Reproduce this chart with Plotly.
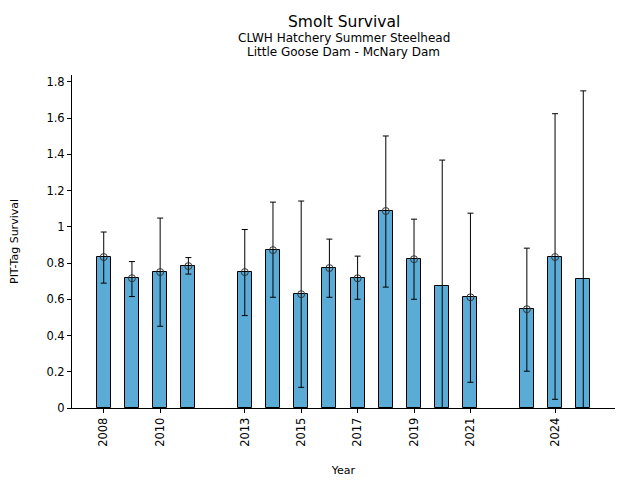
import plotly.graph_objects as go

years = [2008, 2009, 2010, 2011, 2013, 2014, 2015, 2016, 2017, 2018, 2019, 2020, 2021, 2023, 2024, 2025]
survival = [0.833, 0.716, 0.750, 0.783, 0.750, 0.871, 0.628, 0.772, 0.716, 1.087, 0.821, 0.672, 0.611, 0.545, 0.833, 0.711]
upper = [0.971, 0.808, 1.048, 0.830, 0.985, 1.136, 1.142, 0.932, 0.838, 1.501, 1.042, 1.368, 1.075, 0.882, 1.624, 1.750]
lower = [0.689, 0.615, 0.451, 0.739, 0.510, 0.611, 0.114, 0.611, 0.600, 0.667, 0.600, -0.05, 0.142, 0.203, 0.048, -0.05]
show_marker = [True, True, True, True, True, True, True, True, True, True, True, False, True, True, True, False]
tick_years = [2008, 2010, 2013, 2015, 2017, 2019, 2021, 2024]

err_plus = [u - s for u, s in zip(upper, survival)]
err_minus = [s - l for s, l in zip(survival, lower)]
marker_y = [s if m else None for s, m in zip(survival, show_marker)]

font = "DejaVu Sans"
fig = go.Figure()
fig.add_trace(go.Bar(
    x=years, y=survival, width=0.5,
    marker=dict(color="#5aabd6", line=dict(color="black", width=1)),
    error_y=dict(type="data", symmetric=False, array=err_plus, arrayminus=err_minus,
                 color="black", thickness=1, width=3),
    cliponaxis=True, showlegend=False,
))
fig.add_trace(go.Scatter(
    x=years, y=marker_y, mode="markers",
    marker=dict(symbol="circle-open", size=7, color="#333333", line=dict(width=1)),
    showlegend=False,
))

fig.update_layout(
    width=640, height=480,
    margin=dict(l=64, r=33, t=67, b=80),
    plot_bgcolor="white", paper_bgcolor="white",
    font=dict(family=font, size=11, color="black"),
    bargap=0,
)
fig.update_xaxes(
    range=[2006.875, 2026.125], tickvals=tick_years, ticktext=[str(t) for t in tick_years],
    tickangle=-90, ticks="outside", ticklen=4, tickcolor="black",
    showline=True, linecolor="black", linewidth=1, showgrid=False, zeroline=False,
    tickfont=dict(size=11.5), automargin=False,
    title=dict(text="Year", font=dict(size=11), standoff=20),
)
fig.update_yaxes(
    range=[0, 1.8375], tickvals=[0, 0.2, 0.4, 0.6, 0.8, 1, 1.2, 1.4, 1.6, 1.8],
    ticktext=["0", "0.2", "0.4", "0.6", "0.8", "1", "1.2", "1.4", "1.6", "1.8"],
    ticks="outside", ticklen=4, tickcolor="black",
    showline=True, linecolor="black", linewidth=1, showgrid=False, zeroline=False,
    tickfont=dict(size=11.5), automargin=False,
    title=dict(text="PIT-Tag Survival", font=dict(size=11), standoff=25),
)
fig.add_annotation(text="Smolt Survival", xref="paper", yref="paper", x=0.5, y=1,
                   yshift=53, showarrow=False, font=dict(size=15.5), yanchor="middle")
fig.add_annotation(text="CLWH Hatchery Summer Steelhead", xref="paper", yref="paper", x=0.5, y=1,
                   yshift=37, showarrow=False, font=dict(size=12), yanchor="middle")
fig.add_annotation(text="Little Goose Dam - McNary Dam", xref="paper", yref="paper", x=0.5, y=1,
                   yshift=23, showarrow=False, font=dict(size=12), yanchor="middle")

fig.write_html("out.html")
